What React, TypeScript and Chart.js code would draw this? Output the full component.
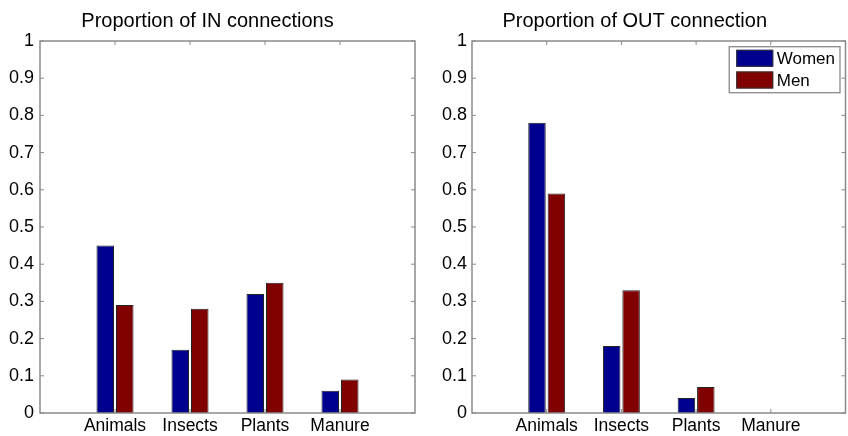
import React, { useEffect, useRef } from 'react';
import { Chart, registerables } from 'chart.js';

Chart.register(...registerables);

const categories = ['Animals', 'Insects', 'Plants', 'Manure'];
const seriesNames = ['Women', 'Men'];
const inWomen = [0.45, 0.17, 0.32, 0.06];
const inMen = [0.29, 0.28, 0.35, 0.09];
const outWomen = [0.78, 0.18, 0.04, 0];
const outMen = [0.59, 0.33, 0.07, 0];
const yTickValues = [0, 0.1, 0.2, 0.3, 0.4, 0.5, 0.6, 0.7, 0.8, 0.9, 1];
const yTickLabels = ['0', '0.1', '0.2', '0.3', '0.4', '0.5', '0.6', '0.7', '0.8', '0.9', '1'];
const titles = ['Proportion of IN connections', 'Proportion of OUT connection'];
const seriesColors = ['#00008f', '#800000'];

const FONT = '"Liberation Sans", Arial, Helvetica, sans-serif';

const matlabBox = {
  id: 'matlabBox',
  afterDatasetsDraw(chart: any) {
    const { ctx, chartArea: a, scales } = chart;
    ctx.save();
    ctx.strokeStyle = '#8a8a8a';
    ctx.lineWidth = 1.5;
    ctx.strokeRect(a.left, a.top, a.right - a.left, a.bottom - a.top);
    ctx.lineWidth = 1;
    const t = 4;
    ctx.beginPath();
    scales.y.ticks.forEach((tk: any) => {
      const py = scales.y.getPixelForValue(tk.value);
      ctx.moveTo(a.left, py);
      ctx.lineTo(a.left + t, py);
      ctx.moveTo(a.right, py);
      ctx.lineTo(a.right - t, py);
    });
    scales.x.ticks.forEach((tk: any) => {
      const px = scales.x.getPixelForValue(tk.value);
      ctx.moveTo(px, a.bottom);
      ctx.lineTo(px, a.bottom - t);
      ctx.moveTo(px, a.top);
      ctx.lineTo(px, a.top + t);
    });
    ctx.stroke();
    ctx.restore();
  },
};

const legendBox = {
  id: 'legendBox',
  afterDraw(chart: any) {
    const { ctx, chartArea } = chart;
    ctx.save();
    ctx.font = `17px ${FONT}`;
    const items = chart.data.datasets;
    const textW = Math.max(...items.map((d: any) => ctx.measureText(d.label).width));
    const sw = 37, sh = 17, padL = 7, gap = 3.5, padR = 5, rowH = 21.7;
    const w = padL + sw + gap + textW + padR;
    const h = 46;
    const x = chartArea.right - 5.5 - w;
    const y = chartArea.top + 5.7;
    ctx.fillStyle = '#fff';
    ctx.fillRect(x, y, w, h);
    ctx.strokeStyle = '#8a8a8a';
    ctx.lineWidth = 1.3;
    ctx.strokeRect(x, y, w, h);
    items.forEach((d: any, i: number) => {
      const cy = y + 11.6 + i * rowH;
      ctx.fillStyle = d.backgroundColor;
      ctx.fillRect(x + padL, cy - sh / 2, sw, sh);
      ctx.strokeStyle = '#333';
      ctx.lineWidth = 1;
      ctx.strokeRect(x + padL + 0.5, cy - sh / 2 + 0.5, sw - 1, sh - 1);
      ctx.fillStyle = '#000';
      ctx.textBaseline = 'middle';
      ctx.textAlign = 'left';
      ctx.fillText(d.label, x + padL + sw + gap, cy + 1);
    });
    ctx.restore();
  },
};

function Panel(props: {
  title: string;
  women: number[];
  men: number[];
  legend: boolean;
  yWidth: number;
  padRight: number;
  yPad: number;
}) {
  const ref = useRef<HTMLCanvasElement>(null);
  useEffect(() => {
    const series = [props.women, props.men];
    const chart = new Chart(ref.current as HTMLCanvasElement, {
      type: 'bar',
      data: {
        datasets: series.map((vals, s) => ({
          label: seriesNames[s],
          data: vals.map((y, i) => ({ x: i + 1, y })),
          backgroundColor: seriesColors[s],
          borderColor: '#222',
          borderWidth: (c: any) => (c.raw && c.raw.y === 0 ? 0 : 1),
          categoryPercentage: 0.52,
          barPercentage: 0.9,
        })),
      } as any,
      options: {
        animation: false,
        responsive: false,
        devicePixelRatio: 1,
        layout: { padding: { left: 0, right: props.padRight, top: 0, bottom: 0 } },
        plugins: {
          legend: { display: false },
          tooltip: { enabled: false },
          title: {
            display: true,
            text: props.title,
            color: '#000',
            font: { size: 20, family: FONT, weight: 'normal' },
            padding: { top: 9, bottom: 8 },
          },
        },
        scales: {
          x: {
            type: 'linear',
            min: 0,
            max: 5,
            offset: false,
            grid: { display: false, drawTicks: false, offset: false },
            border: { display: false },
            afterBuildTicks: (scale: any) => {
              scale.ticks = categories.map((_, i) => ({ value: i + 1 }));
            },
            afterFit: (scale: any) => {
              scale.height = 23;
            },
            ticks: {
              color: '#000',
              font: { size: 17.5, family: FONT },
              padding: 3,
              maxRotation: 0,
              autoSkip: false,
              callback: (_v: any, i: number) => categories[i],
            },
          },
          y: {
            type: 'linear',
            min: 0,
            max: 1,
            grid: { display: false, drawTicks: false },
            border: { display: false },
            afterBuildTicks: (scale: any) => {
              scale.ticks = yTickValues.map((v) => ({ value: v }));
            },
            afterFit: (scale: any) => {
              scale.width = props.yWidth;
            },
            ticks: {
              color: '#000',
              font: { size: 18, family: FONT },
              padding: props.yPad,
              autoSkip: false,
              callback: (_v: any, i: number) => yTickLabels[i],
            },
          },
        },
      } as any,
      plugins: props.legend ? [matlabBox, legendBox] : [matlabBox],
    });
    return () => chart.destroy();
  }, []);
  return (
    <canvas
      ref={ref}
      width={424}
      height={436}
      style={{ display: 'block', width: 424, height: 436 }}
    />
  );
}

export default function App() {
  return (
    <div
      style={{
        position: 'fixed',
        left: 0,
        top: 0,
        width: 848,
        height: 436,
        display: 'flex',
        background: '#fff',
      }}
    >
      <Panel title={titles[0]} women={inWomen} men={inMen} legend={false} yWidth={40} padRight={9} yPad={6} />
      <Panel title={titles[1]} women={outWomen} men={outMen} legend={true} yWidth={48} padRight={2.5} yPad={5} />
    </div>
  );
}
